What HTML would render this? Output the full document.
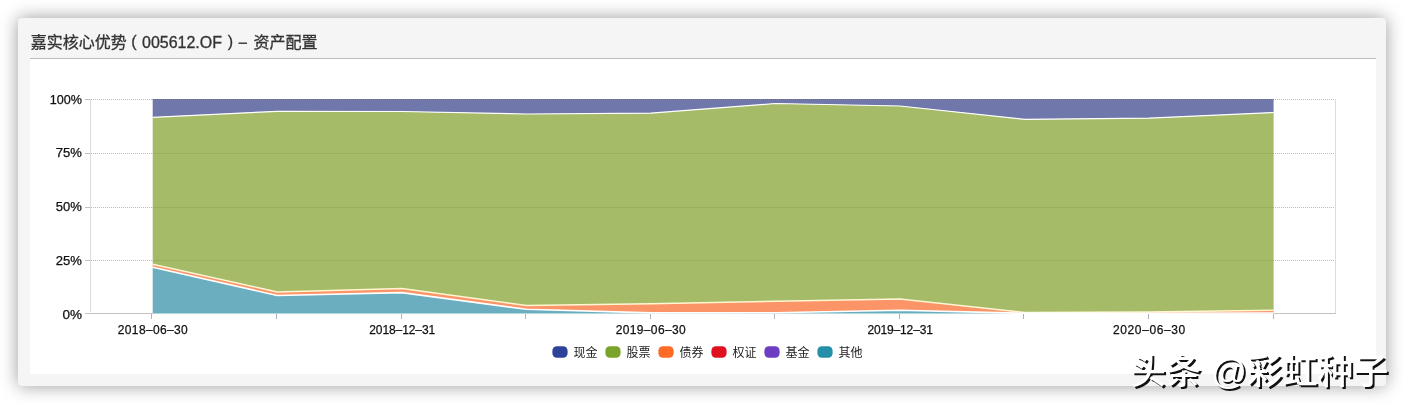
<!DOCTYPE html>
<html lang="zh-CN"><head><meta charset="utf-8"><title>嘉实核心优势（005612.OF）– 资产配置</title>
<style>
html,body{margin:0;padding:0;background:#fff;}
body{width:1404px;height:404px;position:relative;overflow:hidden;font-family:"Liberation Sans",sans-serif;}
.card{position:absolute;left:18px;top:18px;width:1368px;height:368px;background:#f5f5f5;border-radius:4px;box-shadow:0 0 18px rgba(0,0,0,.4);}
.hr{position:absolute;left:30px;top:58px;width:1346px;height:1px;background:#bdbdbd;}
.panel{position:absolute;left:30px;top:59px;width:1346px;height:315px;background:#fff;}
</style></head><body>
<div class="card"></div><div class="hr"></div><div class="panel"></div>
<svg width="1404" height="404" viewBox="0 0 1404 404" style="position:absolute;left:0;top:0;will-change:transform"><path d="M85 99.5H90" stroke="#c0c0c0" stroke-width="1" fill="none"/><path d="M91 99.5H1335" stroke="#bcbcc4" stroke-width="1" stroke-dasharray="1,1" fill="none"/><path d="M85 153.5H90" stroke="#c0c0c0" stroke-width="1" fill="none"/><path d="M91 153.5H1335" stroke="#bcbcc4" stroke-width="1" stroke-dasharray="1,1" fill="none"/><path d="M85 207.5H90" stroke="#c0c0c0" stroke-width="1" fill="none"/><path d="M91 207.5H1335" stroke="#bcbcc4" stroke-width="1" stroke-dasharray="1,1" fill="none"/><path d="M85 260.5H90" stroke="#c0c0c0" stroke-width="1" fill="none"/><path d="M91 260.5H1335" stroke="#bcbcc4" stroke-width="1" stroke-dasharray="1,1" fill="none"/><path d="M90.5 99V312" stroke="#dbdbdb" stroke-width="1" fill="none"/><path d="M1335.5 99V314" stroke="#dbdbdb" stroke-width="1" fill="none"/><path d="M85 313.5H152.7M1273.6 313.5H1336" stroke="#c4c4c4" stroke-width="1" fill="none"/><path d="M152.70,99.50L277.24,99.50L401.79,99.50L526.33,99.50L650.88,99.50L775.42,99.50L899.97,99.50L1024.51,99.50L1149.06,99.50L1273.60,99.50L1273.60,112.50L1149.06,118.20L1024.51,119.30L899.97,106.00L775.42,103.50L650.88,113.20L526.33,114.00L401.79,111.50L277.24,111.30L152.70,117.30Z" fill="#7077ab"/><path d="M152.70,117.30L277.24,111.30L401.79,111.50L526.33,114.00L650.88,113.20L775.42,103.50L899.97,106.00L1024.51,119.30L1149.06,118.20L1273.60,112.50L1273.60,310.30L1149.06,312.00L1024.51,312.50L899.97,299.00L775.42,301.30L650.88,303.75L526.33,305.50L401.79,288.50L277.24,292.00L152.70,264.30Z" fill="#a5bb67"/><path d="M152.70,264.30L277.24,292.00L401.79,288.50L526.33,305.50L650.88,303.75L775.42,301.30L899.97,299.00L1024.51,312.50L1149.06,312.00L1273.60,310.30L1273.60,313.00L1149.06,313.30L1024.51,313.30L899.97,310.30L775.42,312.80L650.88,312.90L526.33,309.30L401.79,292.60L277.24,295.50L152.70,267.20Z" fill="#fb9567"/><path d="M152.70,267.20L277.24,295.50L401.79,292.60L526.33,309.30L650.88,312.90L775.42,312.80L899.97,310.30L1024.51,313.30L1149.06,313.30L1273.60,313.00L1273.60,313.50L1149.06,313.50L1024.51,313.50L899.97,313.50L775.42,313.50L650.88,313.50L526.33,313.50L401.79,313.50L277.24,313.50L152.70,313.50Z" fill="#6baec0"/><path d="M152.7 153.5H1273.6" stroke="#000" stroke-opacity="0.065" stroke-width="1" fill="none"/><path d="M152.7 207.5H1273.6" stroke="#000" stroke-opacity="0.065" stroke-width="1" fill="none"/><path d="M152.7 260.5H1273.6" stroke="#000" stroke-opacity="0.065" stroke-width="1" fill="none"/><path d="M152.7 99.5H1273.6" stroke="#3c3f6e" stroke-opacity="0.35" stroke-width="1" fill="none"/><path d="M152.7 99.5H1273.6" stroke="#3c3f6e" stroke-opacity="0.5" stroke-width="1" stroke-dasharray="1,1" fill="none"/><path d="M152.70,117.30L277.24,111.30L401.79,111.50L526.33,114.00L650.88,113.20L775.42,103.50L899.97,106.00L1024.51,119.30L1149.06,118.20L1273.60,112.50" stroke="#fff" stroke-width="1.2" fill="none" stroke-linejoin="round"/><path d="M152.70,264.30L277.24,292.00L401.79,288.50L526.33,305.50L650.88,303.75L775.42,301.30L899.97,299.00L1024.51,312.50L1149.06,312.00L1273.60,310.30" stroke="#fff6d4" stroke-width="1.4" fill="none" stroke-linejoin="round"/><path d="M152.70,267.20L277.24,295.50L401.79,292.60L526.33,309.30L650.88,312.90L775.42,312.80L899.97,310.30L1024.51,313.30L1149.06,313.30L1273.60,313.00" stroke="#fff" stroke-width="1.6" fill="none" stroke-linejoin="round"/><path d="M151.5 314V319" stroke="#b0b0be" stroke-width="1" fill="none"/><path d="M276.5 314V319" stroke="#b0b0be" stroke-width="1" fill="none"/><path d="M401.5 314V319" stroke="#b0b0be" stroke-width="1" fill="none"/><path d="M525.5 314V319" stroke="#b0b0be" stroke-width="1" fill="none"/><path d="M650.5 314V319" stroke="#b0b0be" stroke-width="1" fill="none"/><path d="M774.5 314V319" stroke="#b0b0be" stroke-width="1" fill="none"/><path d="M899.5 314V319" stroke="#b0b0be" stroke-width="1" fill="none"/><path d="M1023.5 314V319" stroke="#b0b0be" stroke-width="1" fill="none"/><path d="M1148.5 314V319" stroke="#b0b0be" stroke-width="1" fill="none"/><path d="M1273.5 314V319" stroke="#b0b0be" stroke-width="1" fill="none"/><text x="49.70" y="103.8" textLength="32.2" lengthAdjust="spacingAndGlyphs" font-family="Liberation Sans, sans-serif" font-size="12" fill="#111" stroke="#111" stroke-width="0.25">100%</text><text x="55.80" y="157.2" textLength="26.1" lengthAdjust="spacingAndGlyphs" font-family="Liberation Sans, sans-serif" font-size="12" fill="#111" stroke="#111" stroke-width="0.25">75%</text><text x="55.80" y="211.0" textLength="26.1" lengthAdjust="spacingAndGlyphs" font-family="Liberation Sans, sans-serif" font-size="12" fill="#111" stroke="#111" stroke-width="0.25">50%</text><text x="55.80" y="264.8" textLength="26.1" lengthAdjust="spacingAndGlyphs" font-family="Liberation Sans, sans-serif" font-size="12" fill="#111" stroke="#111" stroke-width="0.25">25%</text><text x="62.40" y="318.8" textLength="19.5" lengthAdjust="spacingAndGlyphs" font-family="Liberation Sans, sans-serif" font-size="12" fill="#111" stroke="#111" stroke-width="0.25">0%</text><text x="117.8" y="333.5" textLength="70" lengthAdjust="spacing" font-family="Liberation Sans, sans-serif" font-size="12" fill="#111" stroke="#111" stroke-width="0.25">2018–06–30</text><text x="369.2" y="333.5" textLength="66" lengthAdjust="spacing" font-family="Liberation Sans, sans-serif" font-size="12" fill="#111" stroke="#111" stroke-width="0.25">2018–12–31</text><text x="615.7" y="333.5" textLength="70" lengthAdjust="spacing" font-family="Liberation Sans, sans-serif" font-size="12" fill="#111" stroke="#111" stroke-width="0.25">2019–06–30</text><text x="867.4" y="333.5" textLength="65.5" lengthAdjust="spacing" font-family="Liberation Sans, sans-serif" font-size="12" fill="#111" stroke="#111" stroke-width="0.25">2019–12–31</text><text x="1113.1" y="333.5" textLength="72" lengthAdjust="spacing" font-family="Liberation Sans, sans-serif" font-size="12" fill="#111" stroke="#111" stroke-width="0.25">2020–06–30</text><rect x="552.4" y="346.2" width="15.2" height="11.5" rx="4.5" fill="#2e4299"/><text x="573.5" y="356.9" font-family="Liberation Sans, Noto Sans CJK SC, sans-serif" font-size="12" fill="#222">现金</text><rect x="605.4" y="346.2" width="15.2" height="11.5" rx="4.5" fill="#7aa32a"/><text x="626.5" y="356.9" font-family="Liberation Sans, Noto Sans CJK SC, sans-serif" font-size="12" fill="#222">股票</text><rect x="658.4" y="346.2" width="15.2" height="11.5" rx="4.5" fill="#ff6a26"/><text x="679.5" y="356.9" font-family="Liberation Sans, Noto Sans CJK SC, sans-serif" font-size="12" fill="#222">债券</text><rect x="711.4" y="346.2" width="15.2" height="11.5" rx="4.5" fill="#e0101e"/><text x="732.5" y="356.9" font-family="Liberation Sans, Noto Sans CJK SC, sans-serif" font-size="12" fill="#222">权证</text><rect x="764.4" y="346.2" width="15.2" height="11.5" rx="4.5" fill="#6f3cc4"/><text x="785.5" y="356.9" font-family="Liberation Sans, Noto Sans CJK SC, sans-serif" font-size="12" fill="#222">基金</text><rect x="817.4" y="346.2" width="15.2" height="11.5" rx="4.5" fill="#2490a8"/><text x="838.5" y="356.9" font-family="Liberation Sans, Noto Sans CJK SC, sans-serif" font-size="12" fill="#222">其他</text><text x="30.8" y="48" font-family="Liberation Sans, Noto Sans CJK SC, sans-serif" font-size="16" fill="#333" stroke="#333" stroke-width="0.3">嘉实核心优势</text><text x="131.3" y="46.6" font-family="Liberation Sans, sans-serif" font-size="16" fill="#333" stroke="#333" stroke-width="0.3">(</text><text x="142" y="47.6" font-family="Liberation Sans, sans-serif" font-size="16" fill="#333" stroke="#333" stroke-width="0.3" textLength="80" lengthAdjust="spacingAndGlyphs">005612.OF</text><text x="227.7" y="46.6" font-family="Liberation Sans, sans-serif" font-size="16" fill="#333" stroke="#333" stroke-width="0.3">)</text><path d="M238.5 43.2H247" stroke="#333" stroke-width="1.4"/><text x="253.5" y="48" font-family="Liberation Sans, Noto Sans CJK SC, sans-serif" font-size="16" fill="#333" stroke="#333" stroke-width="0.3">资产配置</text><text x="1132.5" y="386" font-family="Liberation Sans, Noto Sans CJK SC, sans-serif" font-size="35.5" font-weight="500" fill="#111" textLength="258" lengthAdjust="spacingAndGlyphs">头条 @彩虹种子</text><text x="1130.5" y="384" font-family="Liberation Sans, Noto Sans CJK SC, sans-serif" font-size="35.5" font-weight="500" fill="#fff" textLength="258" lengthAdjust="spacingAndGlyphs">头条 @彩虹种子</text></svg>
</body></html>
